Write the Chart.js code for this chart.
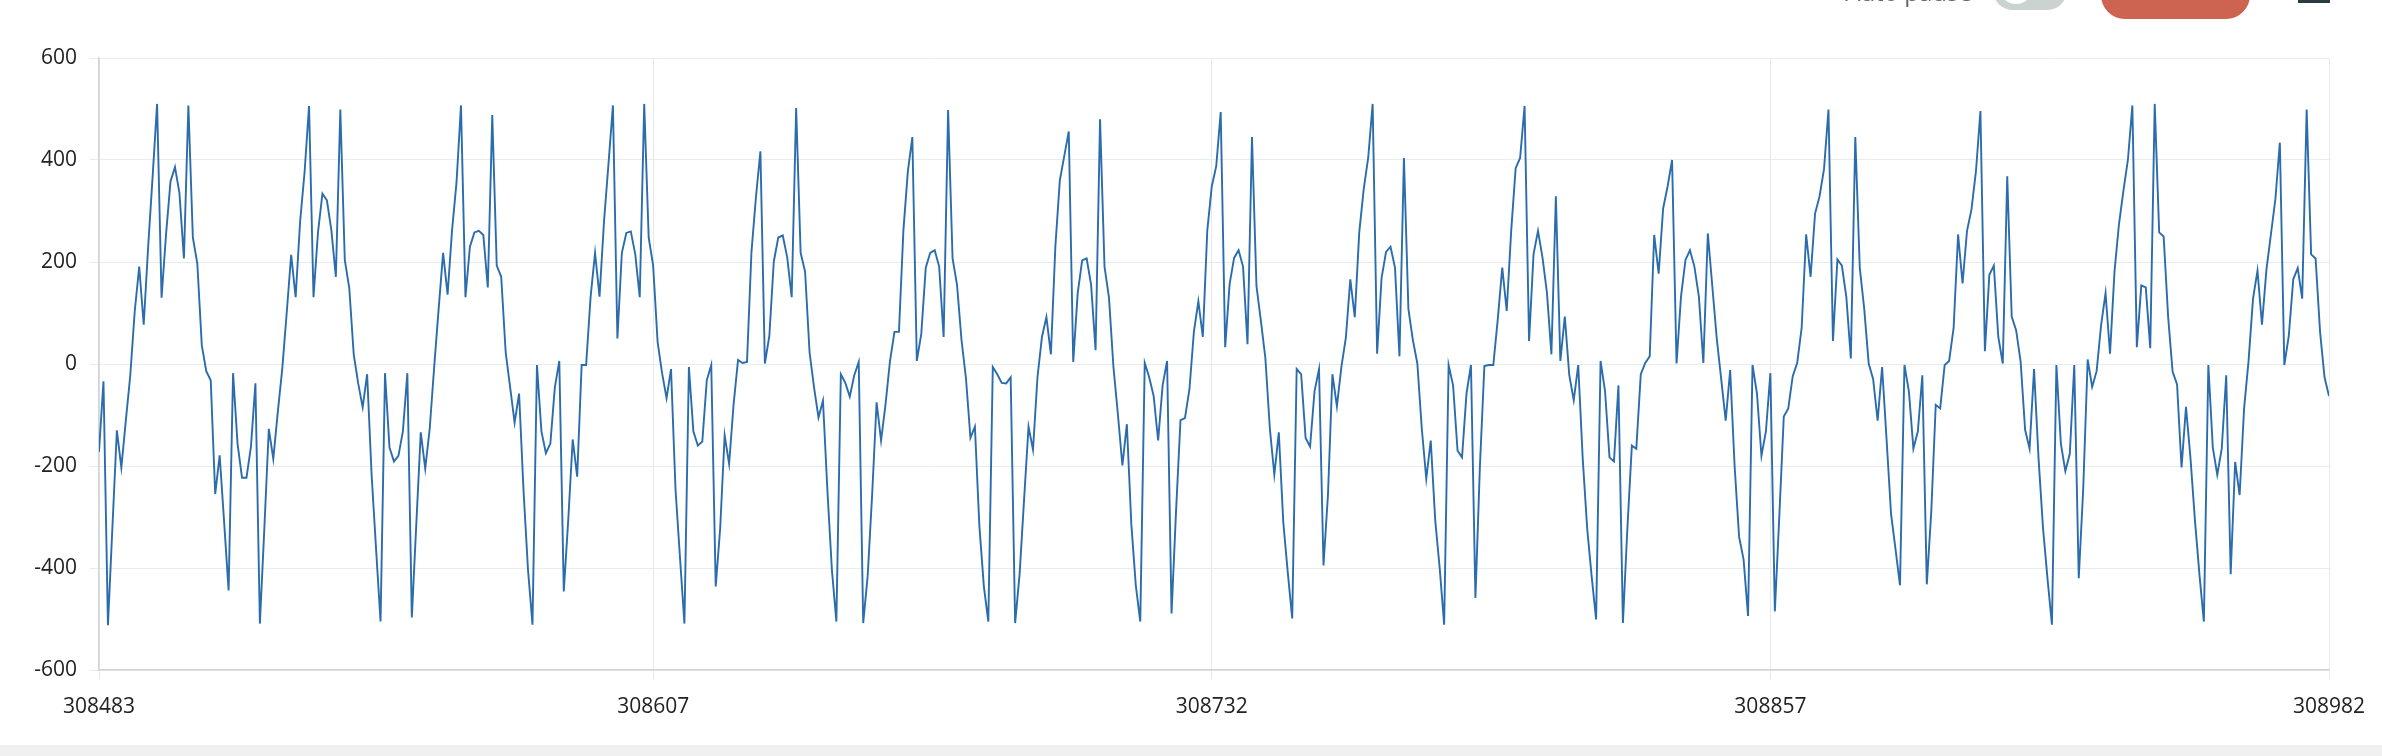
<!DOCTYPE html>
<html>
<head>
<meta charset="utf-8">
<script src="https://cdn.jsdelivr.net/npm/chart.js@4"></script>
<style>
  html, body { margin: 0; padding: 0; background: #fff; overflow: hidden; }
  body { width: 2382px; height: 756px; position: relative; font-family: "Open Sans", sans-serif; }
  #wrap { position: absolute; left: 0; top: 0; width: 2382px; height: 745px; }
  #footer { position: absolute; left: 0; top: 745px; width: 2382px; height: 11px; background: #f0f0f0; }
  .bar { position: absolute; z-index: 2; }
  #pauseLabel { right: 410px; top: -25px; font-size: 24px; color: #666; white-space: nowrap; }
  #toggle { left: 1993px; top: -30px; width: 74px; height: 40px; border-radius: 20px; background: #cbd3d1; }
  #knob { position: absolute; left: 6px; top: 0; width: 34px; height: 34px; border-radius: 50%; background: #fff; }
  #redBtn { left: 2101px; top: -30px; width: 149px; height: 49px; border-radius: 24px; background: #cd6451; }
  #menu { left: 2298px; top: -10px; width: 32px; height: 10px; border-bottom: 3px solid #2b3a42; }
</style>
</head>
<body>
<div id="pauseLabel" class="bar">Auto pause</div>
<div id="toggle" class="bar"><div id="knob"></div></div>
<div id="redBtn" class="bar"></div>
<div id="menu" class="bar"></div>
<div id="wrap"><canvas id="sigChart"></canvas></div>
<div id="footer"></div>
<script>
const firstSample = 308483;
const xTicks = [308483, 308607, 308732, 308857, 308982];
const yTicks = [-600, -400, -200, 0, 200, 400, 600];

// samples 308483..308582
const vals0 = [-172, -34, -512, -320, -130, -203, -111, -22, 104, 191,
  77, 230, 368, 510, 130, 254, 358, 386, 335, 207,
  507, 248, 197, 37, -14, -32, -255, -179, -310, -444,
  -18, -156, -223, -223, -162, -38, -509, -322, -127, -186,
  -95, -10, 100, 214, 131, 279, 376, 506, 131, 258,
  334, 321, 262, 171, 499, 204, 149, 19, -38, -85,
  -20, -217, -363, -505, -18, -164, -191, -180, -132, -18,
  -497, -314, -134, -205, -127, -6, 108, 218, 136, 262,
  356, 507, 131, 230, 258, 261, 253, 150, 488, 193,
  171, 23, -46, -115, -58, -249, -404, -511, -2, -132];
// samples 308583..308682
const vals1 = [-175, -156, -46, 6, -446, -306, -148, -221, -2, -2,
  131, 218, 132, 279, 392, 507, 50, 218, 257, 260,
  215, 131, 510, 248, 193, 43, -18, -67, -10, -245,
  -379, -509, -6, -132, -160, -152, -32, -2, -436, -322,
  -140, -196, -79, 8, 2, 4, 220, 327, 417, 1,
  55, 201, 248, 252, 209, 131, 502, 218, 181, 23,
  -46, -105, -72, -249, -404, -505, -20, -37, -64, -22,
  4, -508, -416, -257, -75, -150, -79, 6, 63, 63,
  262, 378, 445, 6, 59, 189, 218, 223, 191, 53,
  498, 207, 155, 47, -28, -145, -123, -318, -436, -505];
// samples 308683..308782
const vals2 = [-6, -20, -37, -38, -26, -508, -412, -266, -123, -168,
  -26, 53, 92, 19, 230, 360, 408, 456, 4, 139,
  203, 207, 155, 27, 480, 191, 130, -6, -99, -199,
  -118, -314, -434, -505, 2, -26, -63, -150, -42, 6,
  -489, -290, -110, -106, -50, 63, 123, 53, 262, 348,
  388, 494, 33, 157, 208, 223, 191, 39, 445, 153,
  84, 11, -127, -217, -134, -310, -408, -499, -10, -20,
  -145, -162, -53, -10, -395, -257, -20, -83, -6, 51,
  166, 92, 258, 343, 404, 510, 20, 169, 220, 230,
  189, 15, 404, 108, 47, 1, -127, -225, -150, -306];
// samples 308783..308882
const vals3 = [-400, -511, -2, -42, -170, -183, -58, -2, -459, -201,
  -4, -2, -2, 88, 189, 104, 261, 384, 404, 506,
  45, 215, 261, 209, 140, 19, 329, 6, 93, -22,
  -71, -2, -184, -322, -416, -501, 6, -53, -183, -191,
  -42, -508, -322, -160, -166, -20, 2, 15, 253, 177,
  305, 348, 400, 1, 132, 204, 223, 191, 132, 2,
  256, 153, 50, -30, -111, -12, -201, -339, -383, -494,
  -2, -58, -180, -132, -18, -485, -298, -103, -87, -24,
  2, 71, 254, 171, 295, 329, 382, 499, 45, 205,
  193, 131, 11, 445, 189, 108, 1, -30, -111, -6];
// samples 308883..308982
const vals4 = [-148, -294, -363, -434, -2, -54, -166, -132, -22, -432,
  -290, -80, -87, -2, 6, 71, 254, 158, 261, 303,
  378, 496, 25, 175, 193, 53, 1, 368, 93, 66,
  4, -129, -166, -10, -184, -321, -420, -511, -2, -156,
  -210, -176, -2, -420, -245, 9, -45, -14, 76, 139,
  20, 181, 274, 340, 400, 507, 33, 154, 150, 31,
  510, 258, 250, 93, -15, -40, -203, -84, -184, -306,
  -412, -505, -2, -164, -217, -166, -22, -412, -192, -257,
  -87, 6, 128, 183, 77, 185, 254, 323, 434, -2,
  55, 166, 188, 128, 499, 215, 207, 63, -26, -63];

const signal = [...vals0, ...vals1, ...vals2, ...vals3, ...vals4];
const points = signal.map((v, i) => ({ x: firstSample + i, y: v }));

const tickFont = { family: '"Open Sans", sans-serif', size: 21 };

const ctx = document.getElementById('sigChart').getContext('2d');
const chart = new Chart(ctx, {
  type: 'line',
  data: {
    datasets: [{
      data: points,
      borderColor: '#2b6cad',
      borderWidth: 1.9,
      pointRadius: 0,
      fill: false,
      tension: 0
    }]
  },
  options: {
    responsive: true,
    maintainAspectRatio: false,
    animation: false,
    layout: { padding: { top: 58, right: 53, left: 0, bottom: 0 } },
    plugins: { legend: { display: false }, tooltip: { enabled: false } },
    scales: {
      x: {
        type: 'linear',
        min: xTicks[0],
        max: xTicks[xTicks.length - 1],
        afterBuildTicks: s => { s.ticks = xTicks.map(v => ({ value: v })); },
        afterFit: s => { s.height = 75; },
        grid: { color: '#e6e9e9', tickLength: 9 },
        border: { color: '#cfd4d4', width: 1.5 },
        ticks: { color: '#222', font: tickFont, padding: 15, maxRotation: 0, callback: v => String(v) }
      },
      y: {
        min: -600,
        max: 600,
        afterBuildTicks: s => { s.ticks = yTicks.map(v => ({ value: v })); },
        afterFit: s => { s.width = 99; },
        grid: { color: '#e9ecec', tickLength: 9 },
        border: { color: '#cfd4d4', width: 1.5 },
        ticks: { color: '#222', font: tickFont, padding: 13, callback: v => String(v) }
      }
    }
  }
});
</script>
</body>
</html>
